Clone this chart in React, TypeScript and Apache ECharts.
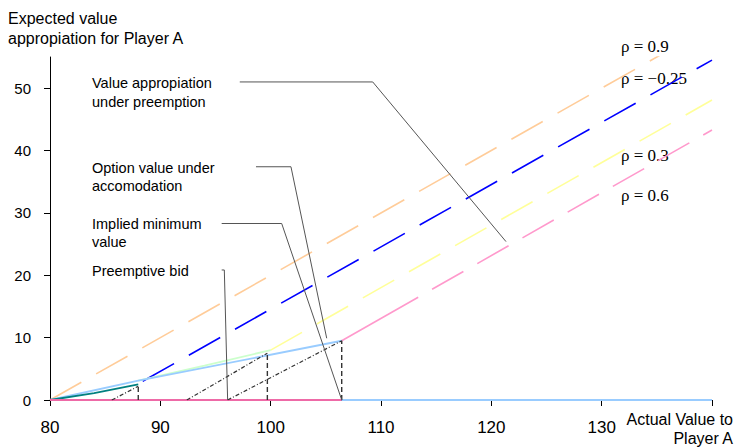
import React, { useEffect, useRef } from "react";
import * as echarts from "echarts";

// ---- data ----
const xTicks = [80, 90, 100, 110, 120, 130, 140];
const xLabels = [80, 90, 100, 110, 120, 130];
const yTicks = [0, 10, 20, 30, 40, 50];

const rho09 = [[80, 0], [140, 60]];
const rhoNeg025 = [[88.4, 3.0], [140, 54.5]];
const rho03 = [[100, 8.0], [140, 48.1]];
const rho06 = [[106.44, 9.5], [140, 43.3]];

const optionAccom = [[80, 0], [88, 3.1], [106.44, 9.5]];
const greenCurve = [[88, 3.1], [94, 5.5], [100, 8.0]];
const tealCurve = [[80, 0], [84, 1.1], [88, 2.5]];
const zeroLeft = [[80, 0], [106.44, 0]];
const zeroRight = [[106.44, 0], [140, 0]];

const dashDot1 = [[85.6, 0], [88, 2.2]];
const dashDot2 = [[92.4, 0], [99.7, 7.5]];
const dashDot3 = [[96.1, 0], [106.44, 9.5]];
const vert1 = [[88, 0], [88, 2.2]];
const vert2 = [[99.7, 0], [99.7, 7.5]];
const vert3 = [[106.44, 0], [106.44, 9.5]];

const leaderPreemption = [[97.2, 51.0], [109.25, 51.0], [121.33, 25.4]];
const leaderOption = [[98.67, 37.4], [101.84, 37.4], [105.08, 9.9]];
const leaderImplied = [[95.56, 28.3], [101.0, 28.3], [106.44, 0]];
const leaderBid = [[95.56, 20.85], [95.8, 20.85], [96.1, 0]];

const rhoLabels = ["ρ = 0.9", "ρ = −0.25", "ρ = 0.3", "ρ = 0.6"];
const annotationLines = [
  ["Value appropiation", "under preemption"],
  ["Option value under", "accomodation"],
  ["Implied minimum", "value"],
  ["Preemptive bid"],
];
const yTitle = ["Expected value", "appropiation for Player A"];
const xTitle = ["Actual Value to", "Player A"];

const SANS = "'Liberation Sans', Arial, sans-serif";
const SERIF = "'Liberation Serif', 'Times New Roman', serif";
const LONG_DASH = [36, 17];

function line(data: number[][], color: string, width: number, type: any = "solid", z = 2) {
  return {
    type: "line",
    data,
    symbol: "none",
    showSymbol: false,
    silent: true,
    z,
    lineStyle: { color, width, type },
  };
}

export default function App() {
  const ref = useRef<HTMLDivElement>(null);
  useEffect(() => {
    if (!ref.current) return;
    const chart = echarts.init(ref.current, undefined, { renderer: "svg" });

    const annoY = [[83.3, 101.7], [168.3, 185.7], [224, 241.7], [270.7]];
    const rhoY = [46.7, 78.3, 155, 195];
    const graphics: any[] = [];
    annotationLines.forEach((lines, i) => {
      lines.forEach((t, j) => {
        graphics.push({
          type: "text",
          x: 92,
          y: annoY[i][j],
          style: { text: t, font: `14.5px ${SANS}`, fill: "#000", verticalAlign: "middle", align: "left" },
        });
      });
    });
    rhoLabels.forEach((t, i) => {
      graphics.push({
        type: "text",
        x: 621,
        y: rhoY[i],
        style: { text: t, font: `17px ${SERIF}`, fill: "#000", verticalAlign: "middle", align: "left" },
      });
    });
    yTitle.forEach((t, i) => {
      graphics.push({
        type: "text",
        x: 8,
        y: 18.3 + i * 20,
        style: { text: t, font: `16px ${SANS}`, fill: "#000", verticalAlign: "middle", align: "left" },
      });
    });
    xTitle.forEach((t, i) => {
      graphics.push({
        type: "text",
        x: 733,
        y: 419 + i * 19,
        style: { text: t, font: `16px ${SANS}`, fill: "#000", verticalAlign: "middle", align: "right" },
      });
    });

    const rho06Dash = [88, 16];
    for (let k = 0; k < 8; k++) rho06Dash.push(36, 16);

    chart.setOption({
      animation: false,
      backgroundColor: "#fff",
      textStyle: { fontFamily: SANS },
      grid: { left: 50, right: 22, top: 57, bottom: 48, containLabel: false },
      xAxis: {
        type: "value",
        min: 80,
        max: 140,
        interval: 10,
        splitLine: { show: false },
        axisLine: { show: true, onZero: false, lineStyle: { color: "#000", width: 1 } },
        axisTick: { show: true, length: 6, customValues: xTicks, lineStyle: { color: "#000" } },
        axisLabel: {
          customValues: xLabels,
          formatter: (v: number) => (v >= 140 ? "" : String(v)),
          fontSize: 17,
          color: "#000",
          margin: 19,
          fontFamily: SANS,
        },
      },
      yAxis: {
        type: "value",
        min: 0,
        max: 55,
        interval: 10,
        splitLine: { show: false },
        axisLine: { show: true, lineStyle: { color: "#000", width: 1 } },
        axisTick: { show: true, length: 6, customValues: yTicks, lineStyle: { color: "#000" } },
        axisLabel: {
          customValues: yTicks,
          formatter: (v: number) => (v > 50 ? "" : String(v)),
          fontSize: 15,
          color: "#000",
          margin: 19,
          fontFamily: SANS,
        },
      },
      series: [
        line(rho09, "#FFCC99", 1.6, LONG_DASH),
        line(rhoNeg025, "#0000FF", 1.6, LONG_DASH),
        line(rho03, "#FFFF99", 1.6, LONG_DASH),
        line(rho06, "#FF99CC", 1.6, rho06Dash),
        line(greenCurve, "#CCFFCC", 1.8),
        line(optionAccom, "#99CCFF", 1.8),
        line(tealCurve, "#008080", 1.8),
        line(zeroLeft, "#EE6AA7", 2),
        line(zeroRight, "#99CCFF", 2),
        line(dashDot1, "#333", 1.2, [4, 2, 1, 2]),
        line(dashDot2, "#333", 1.2, [4, 2, 1, 2]),
        line(dashDot3, "#333", 1.2, [4, 2, 1, 2]),
        line(vert1, "#333", 1.4, [5, 3]),
        line(vert2, "#333", 1.4, [5, 3]),
        line(vert3, "#333", 1.4, [5, 3]),
        line(leaderPreemption, "#555", 1, "solid", 3),
        line(leaderOption, "#555", 1, "solid", 3),
        line(leaderImplied, "#555", 1, "solid", 3),
        line(leaderBid, "#555", 1, "solid", 3),
      ],
      graphic: graphics,
    });
    return () => chart.dispose();
  }, []);
  return <div ref={ref} style={{ position: "absolute", left: 0, top: 0, width: 734, height: 448 }} />;
}
